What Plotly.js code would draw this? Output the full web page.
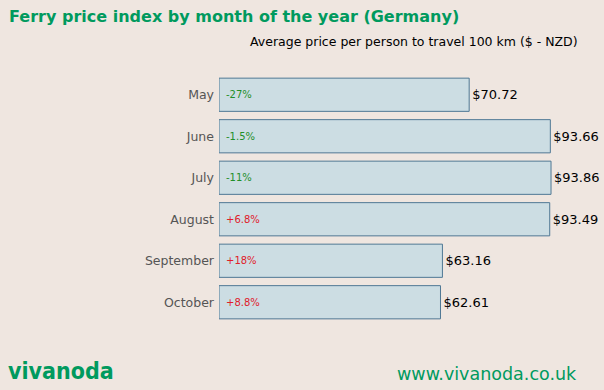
<!DOCTYPE html>
<html><head><meta charset="utf-8">
<script src="https://cdn.plot.ly/plotly-3.0.1.min.js"></script>
<style>html,body{margin:0;padding:0;background:#efe6e0;}</style>
</head><body>
<div id="chart" style="width:604px;height:390px;"></div>
<script>
var months = ["May", "June", "July", "August", "September", "October"];
var prices = [70.72, 93.66, 93.86, 93.49, 63.16, 62.61];
var changes = ["-27%", "-1.5%", "-11%", "+6.8%", "+18%", "+8.8%"];

var priceLabels = prices.map(function(p){ return "$" + p.toFixed(2); });

var annotations = months.map(function(m, i){
  return {
    x: 0, y: m, xref: "x", yref: "y", text: changes[i],
    xanchor: "left", xshift: 5, showarrow: false,
    font: {family: "DejaVu Sans", size: 10, color: changes[i].charAt(0) === "-" ? "#1f8f2a" : "#e0202a"}
  };
});
annotations.push({
  xref: "paper", yref: "paper", x: 1.0, xshift: 3, y: 1, yshift: 33, xanchor: "right", yanchor: "middle",
  text: "Average price per person to travel 100 km ($ - NZD)", showarrow: false,
  font: {family: "DejaVu Sans", size: 12.5, color: "#000"}
});
annotations.push({
  xref: "paper", yref: "paper", x: 0, xshift: -213, y: 0, yshift: -48, xanchor: "left", yanchor: "middle",
  text: "<b>vivanoda</b>", showarrow: false,
  font: {family: "DejaVu Sans Condensed", size: 23, color: "#009a5e"}
});
annotations.push({
  xref: "paper", yref: "paper", x: 1.0, xshift: 2, y: 0, yshift: -51, xanchor: "right", yanchor: "middle",
  text: "www.vivanoda.co.uk", showarrow: false,
  font: {family: "DejaVu Sans", size: 17.5, color: "#009a5e"}
});

var trace = {
  type: "bar", orientation: "h",
  x: prices, y: months,
  text: priceLabels, textposition: "outside", cliponaxis: false,
  textfont: {family: "DejaVu Sans", size: 13, color: "#000"},
  marker: {color: "#ccdde3", line: {color: "#4f7894", width: 1}},
  hoverinfo: "none"
};

var layout = {
  width: 604, height: 390,
  paper_bgcolor: "#efe6e0", plot_bgcolor: "#efe6e0",
  margin: {l: 219, r: 27, t: 74, b: 67},
  title: {text: "<b>Ferry price index by month of the year (Germany)</b>", x: 0.015, xanchor: "left", y: 0.957, yanchor: "middle",
    font: {family: "DejaVu Sans", size: 16, color: "#009a5e"}},
  xaxis: {range: [0, 101.2], visible: false, fixedrange: true},
  yaxis: {autorange: "reversed", showgrid: false, zeroline: false, showline: false, ticks: "",
    tickfont: {family: "DejaVu Sans", size: 12.5, color: "#555"}, ticklabelstandoff: 4},
  bargap: 0.2,
  showlegend: false,
  annotations: annotations
};

Plotly.newPlot("chart", [trace], layout, {displayModeBar: false, staticPlot: true});
</script>
</body></html>
